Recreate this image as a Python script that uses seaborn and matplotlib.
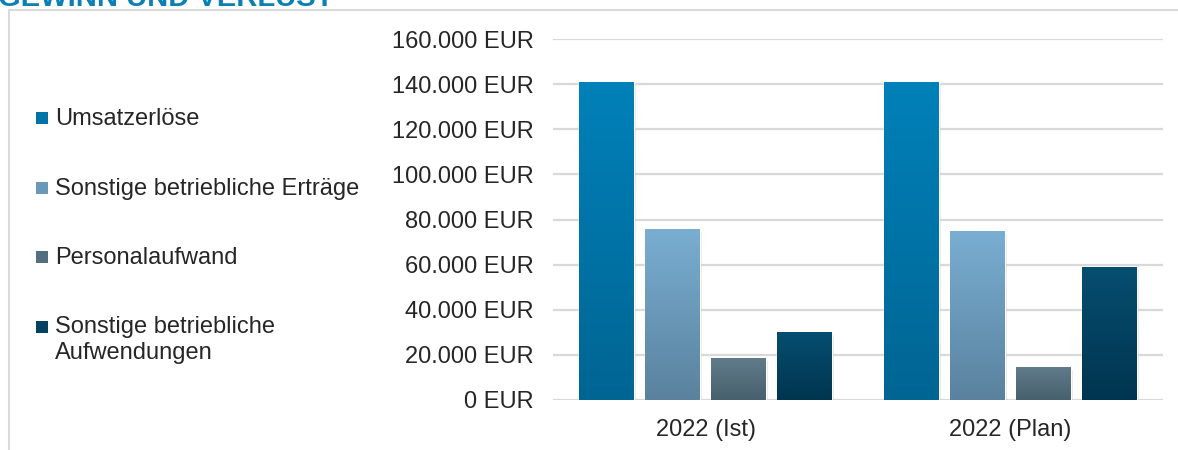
import numpy as np
import pandas as pd
import matplotlib
matplotlib.use("Agg")
import matplotlib.pyplot as plt
import matplotlib.patheffects as pe
from matplotlib.colors import LinearSegmentedColormap
from matplotlib.patches import Rectangle
from matplotlib.ticker import FuncFormatter, MultipleLocator
import seaborn as sns

# data
periods = ["2022 (Ist)", "2022 (Plan)"]
series = ["Umsatzerlöse", "Sonstige betriebliche Erträge", "Personalaufwand",
          "Sonstige betriebliche\nAufwendungen"]
umsatz = [141000, 141000]
ertraege = [75800, 74900]
personal = [18600, 14600]
aufwand = [30200, 59000]

# (top, bottom) gradient colours per series
grad = [("#0081b9", "#006593"), ("#79aed2", "#5a829e"),
        ("#607b8b", "#47606d"), ("#064e70", "#003550")]
flat = ["#0074a6", "#6a98b8", "#54707e", "#034260"]

rows = []
for name, vals in zip(series, [umsatz, ertraege, personal, aufwand]):
    for p, v in zip(periods, vals):
        rows.append({"period": p, "series": name, "value": v})
df = pd.DataFrame(rows)

sns.set_theme(style="white")
plt.rcParams["font.family"] = ["Liberation Sans", "DejaVu Sans"]
txt = "#262626"

fig = plt.figure(figsize=(11.78, 4.5), dpi=100)
ax = fig.add_axes([553 / 1178, 1 - 400 / 450, 610 / 1178, 361 / 450])

sns.barplot(data=df, x="period", y="value", hue="series", palette=flat,
            width=0.866, gap=0.18, ax=ax, legend=False, saturation=1)

ax.set_ylim(0, 160000)
ax.set_xlim(-0.5, 1.5)
ax.yaxis.set_major_locator(MultipleLocator(20000))
ax.yaxis.set_major_formatter(FuncFormatter(lambda v, _: f"{int(v):,}".replace(",", ".") + " EUR"))
ax.grid(axis="y", color="#d9d9d9", linewidth=1.6)
ax.set_axisbelow(True)
for s in ax.spines.values():
    s.set_visible(False)
ax.tick_params(axis="y", length=0, pad=14, labelsize=17, labelcolor=txt)
ax.tick_params(axis="x", length=0, pad=14, labelsize=17, labelcolor=txt)
ax.set_xlabel("")
ax.set_ylabel("")

# vertical gradient + soft shadow on each bar
col_idx = {matplotlib.colors.to_hex(c): i for i, c in enumerate(flat)}
for bar in list(ax.patches):
    i = col_idx.get(matplotlib.colors.to_hex(bar.get_facecolor()))
    if i is None:
        continue
    x0, y0 = bar.get_x(), bar.get_y()
    w, h = bar.get_width(), bar.get_height()
    bar.set_path_effects([pe.SimplePatchShadow(offset=(2, -2), alpha=0.18, shadow_rgbFace="#808080"),
                          pe.Normal()])
    cmap = LinearSegmentedColormap.from_list("g", [grad[i][1], grad[i][0]])
    img = ax.imshow(np.linspace(0, 1, 100).reshape(-1, 1), cmap=cmap, origin="lower",
                    extent=[x0, x0 + w, y0, y0 + h], aspect="auto", zorder=bar.get_zorder() + 0.1)
    img.set_clip_path(bar)
ax.set_ylim(0, 160000)
ax.set_xlim(-0.5, 1.5)

# legend on the left, marker level with the first text line (like the original)
W, H = 1178, 450
for k, (name, c) in enumerate(zip(series, flat)):
    yc = 118 + k * 69.5
    fig.patches.append(Rectangle((36 / W, 1 - (yc + 6) / H), 12 / W, 12 / H,
                                 transform=fig.transFigure, facecolor=c, edgecolor="none"))
    fig.text(55 / W, 1 - (yc + 7) / H, name.split("\n")[0], fontsize=17, color=txt, va="baseline")
    if "\n" in name:
        fig.text(55 / W, 1 - (yc + 33) / H, name.split("\n")[1], fontsize=17, color=txt, va="baseline")

# outer frame and clipped title
fig.patches.append(Rectangle((8.5 / W, -0.1), 1.2, 1 - 10 / H + 0.1, transform=fig.transFigure,
                             fill=False, edgecolor="#d9d9d9", linewidth=1.5, zorder=0))
fig.text(-0.002, 1 - 6 / H, "GEWINN UND VERLUST", color="#0a80b4", fontsize=21,
         fontweight="bold", va="baseline", ha="left")

fig.savefig("out.png", dpi=100)
